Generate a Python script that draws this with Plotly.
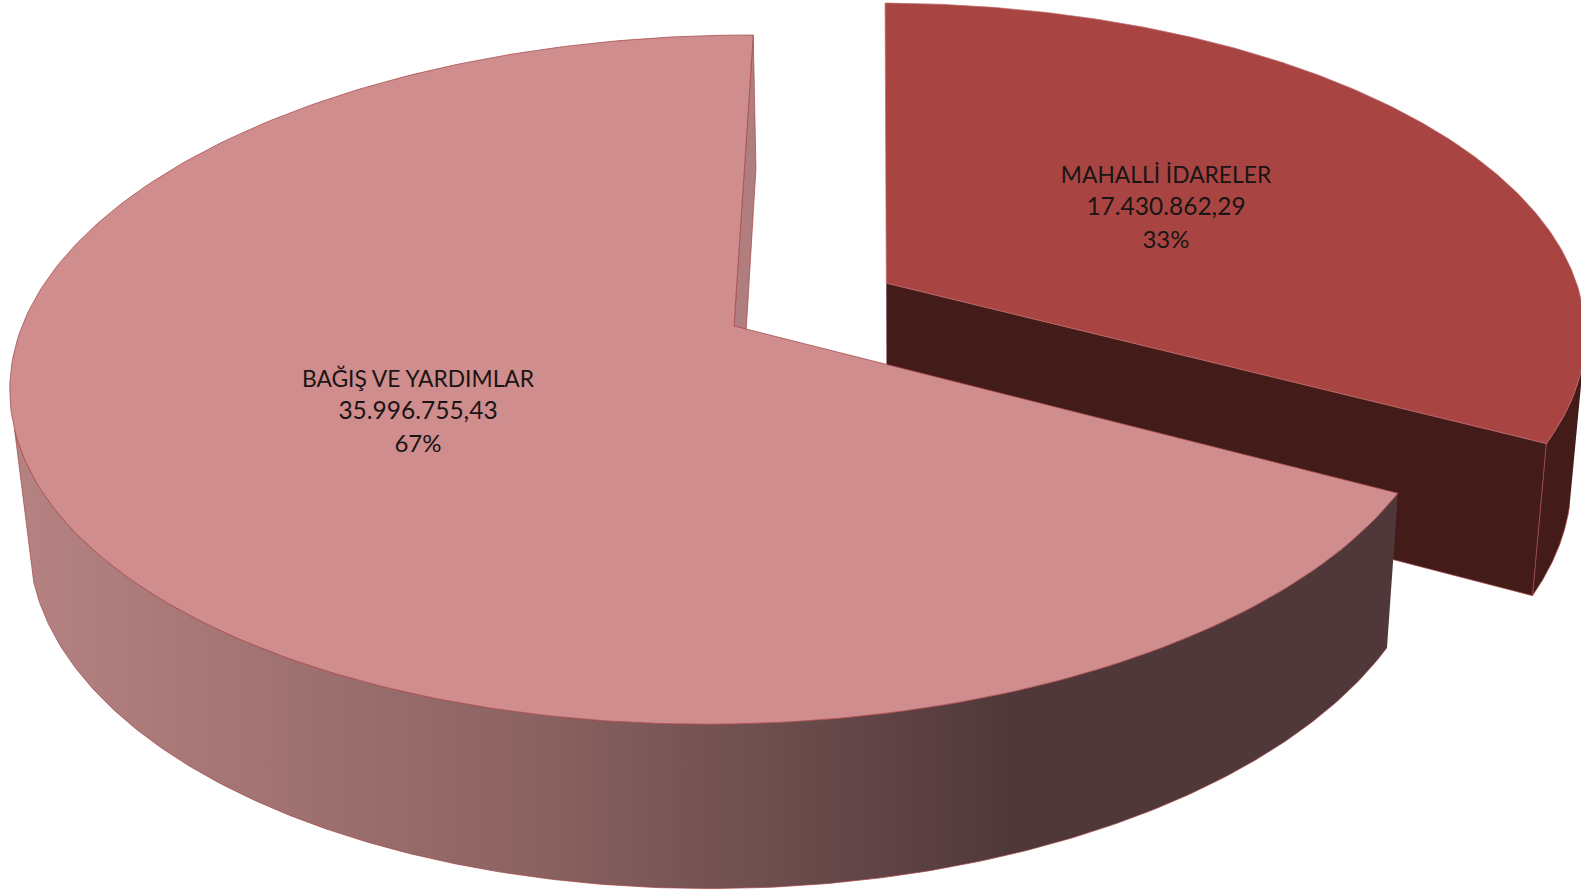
import numpy as np
import plotly.graph_objects as go

# Veriler
categories = ["MAHALLİ İDARELER", "BAĞIŞ VE YARDIMLAR"]
values = [17430862.29, 35996755.43]
value_labels = ["17.430.862,29", "35.996.755,43"]
percent_labels = ["33%", "67%"]

# 3B pasta icin kamera ayarlari (ekran pikseli)
first_angle = 2.2
explode = 0.252
x0, y0 = 734.0, 326.0
A, B, c, d, k, j = 709.0, 336.0, 5.0, -12.0, -0.1553, 0.01
vx, vy, m = 905.0, 7500.0, 0.021

shares = [v / sum(values) * 360 for v in values]


def project(u, v, bottom=False):
    w = 1 + k * v + j * u
    x = x0 + (A * u + c * v) / w
    y = y0 + (B * v + d * u) / w
    if bottom:
        e = m / (w + m)
        x = x + (vx - x) * e
        y = y + (vy - y) * e
    return x, y


def arc(a1, a2, du=0.0, dv=0.0, bottom=False):
    t = np.radians(np.linspace(a1, a2, 240))
    return project(du + np.sin(t), dv - np.cos(t), bottom)


def poly(x, y, color, line="rgba(165,73,75,0.75)", width=1, **kw):
    return go.Scatter(x=list(x), y=list(y), mode="lines", fill="toself", fillcolor=color,
                      line=dict(color=line, width=width), hoverinfo="skip", **kw)


s1 = first_angle
s2 = first_angle + shares[0]
s3 = first_angle + 360
mid = np.radians((s1 + s2) / 2)
du, dv = explode * np.sin(mid), -explode * np.cos(mid)

fig = go.Figure()

# Dilimlenmis kucuk parca: yan duvarlar
xt, yt = arc(105, s2, du, dv)
xb, yb = arc(105, s2, du, dv, bottom=True)
fig.add_trace(poly(np.r_[xt, xb[::-1]], np.r_[yt, yb[::-1]], "#431B18"))

ax_t, ay_t = project(du, dv)
ax_b, ay_b = project(du, dv, True)
fig.add_trace(poly([ax_t, xt[-1], xb[-1], ax_b], [ay_t, yt[-1], yb[-1], ay_b], "#431B18"))

# Kucuk parca: ust yuzey
xt, yt = arc(s1, s2, du, dv)
fig.add_trace(poly(np.r_[ax_t, xt, ax_t], np.r_[ay_t, yt, ay_t], "#A84543", line="rgba(190,110,110,0.7)"))

# Buyuk parca: baslangic duvari
ax_t, ay_t = project(0, 0)
ax_b, ay_b = project(0, 0, True)
xc_t, yc_t = arc(s3, s3)
xc_b, yc_b = arc(s3, s3, bottom=True)
fig.add_trace(poly([ax_t, xc_t[0], xc_b[0], ax_b], [ay_t, yc_t[0], yc_b[0], ay_b], "#B07E7E"))

# Buyuk parca: dis duvar (soldan saga koyulasan)
xt, yt = arc(s2, 255)
xb, yb = arc(s2, 255, bottom=True)
wall = poly(np.r_[xt, xb[::-1]], np.r_[yt, yb[::-1]], "#80595A")
wall.fillgradient = dict(type="horizontal", start=20, stop=1010,
                         colorscale=[[0, "#B58282"], [0.5, "#8D6463"], [1, "#50383A"]])
fig.add_trace(wall)

# Buyuk parca: ust yuzey
xt, yt = arc(s2, s3)
fig.add_trace(poly(np.r_[ax_t, xt, ax_t], np.r_[ay_t, yt, ay_t], "#CF8D8D"))

# Etiketler: her satir ayri, boylece satir araligi referansa uyuyor
label_x = [1166, 418]
for labels, ly, size in [(categories, [177, 381], 22.8),
                         (value_labels, [209, 413], 24.5),
                         (percent_labels, [242, 446], 24)]:
    fig.add_trace(go.Scatter(
        x=label_x, y=ly, mode="text", text=labels,
        textposition="middle center",
        textfont=dict(family="Lato", size=size, color="#1A1414"),
        hoverinfo="skip"))

fig.update_layout(
    width=1581, height=891, showlegend=False,
    paper_bgcolor="white", plot_bgcolor="white",
    margin=dict(l=0, r=0, t=0, b=0),
    xaxis=dict(range=[0, 1581], visible=False, fixedrange=True),
    yaxis=dict(range=[891, 0], visible=False, fixedrange=True),
)

# sayfanin varsayilan 8px kenar boslugunu kaldir
fig.write_html("out.html", config={"displayModeBar": False},
               post_script="document.body.style.margin='0';document.body.style.overflow='hidden';")
